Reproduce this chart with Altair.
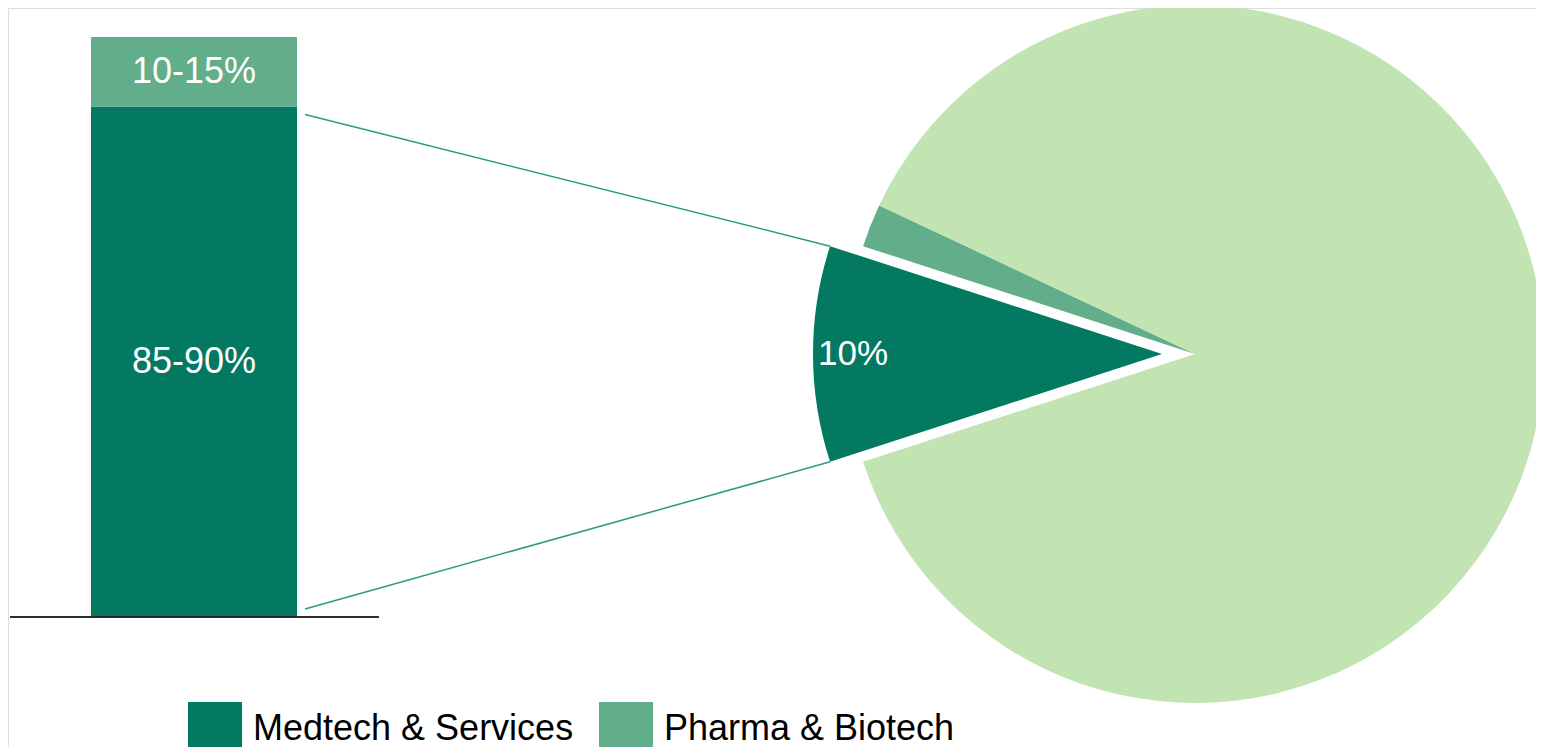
import math
import altair as alt
import pandas as pd

# ---------------- data ----------------
bar_segments = ["Medtech & Services", "Pharma & Biotech"]
bar_values = [88, 12]
bar_labels = ["85-90%", "10-15%"]

pie_segments = ["Medtech & Services", "Pharma & Biotech", "Other"]
pie_values = [10, 2, 88]
pie_labels = ["10%", "", ""]

colors = ["#027960", "#62AE8A", "#C2E4B3"]
line_color = "#2F9A7E"

# ---------------- layout ----------------
W, H = 1528, 739
PX_PER_UNIT = 5.8          # pixels per percentage point on the bar scale
Y_ZERO_PX = 609            # pixel row of the bar baseline
YMAX = Y_ZERO_PX / PX_PER_UNIT
YMIN = -(H - Y_ZERO_PX) / PX_PER_UNIT
BAR_X0, BAR_X1 = 83, 289
BASE_X0, BASE_X1 = 2, 371
PIE_CX, PIE_CY, R = 1187, 346, 349
EXPLODE = 33
LABEL_R = 309
LINE_GAP = 8
LINE_INSET = 8 / PX_PER_UNIT

start_deg = 270 - pie_values[0] * 3.6 / 2
a0 = math.radians(start_deg)

bar_df = pd.DataFrame({"segment": bar_segments, "value": bar_values,
                       "label": bar_labels, "ord": list(range(len(bar_values)))})
pie_df = pd.DataFrame({"segment": pie_segments, "value": pie_values,
                       "label": pie_labels, "ord": list(range(len(pie_values)))})

# connector lines: bar edge -> corners of exploded slice
ecx = PIE_CX - EXPLODE
corners = []
for deg in (start_deg + pie_values[0] * 3.6, start_deg):
    t = math.radians(deg)
    px = ecx + R * math.sin(t)
    py = PIE_CY - R * math.cos(t)
    corners.append((px, (Y_ZERO_PX - py) / PX_PER_UNIT))
line_df = pd.DataFrame({
    "x": [BAR_X1 + LINE_GAP, BAR_X1 + LINE_GAP],
    "y": [bar_values[0] - LINE_INSET, 0 + LINE_INSET],
    "x2": [corners[0][0], corners[1][0]],
    "y2": [corners[0][1], corners[1][1]],
})

xscale = alt.Scale(domain=[0, W], nice=False, zero=False)
yscale = alt.Scale(domain=[YMIN, YMAX], nice=False, zero=False)
tscale = alt.Scale(domain=[0, 100], range=[a0, a0 + 2 * math.pi])

color_enc = alt.Color(
    "segment:N",
    scale=alt.Scale(domain=pie_segments, range=colors),
    legend=alt.Legend(
        values=bar_segments, orient="none", legendX=180, legendY=694,
        direction="horizontal", title=None, symbolType="square",
        symbolSize=2916, symbolStrokeWidth=0, symbolOpacity=1,
        labelFontSize=36, labelOffset=11, columnPadding=25,
        labelColor="#000000", padding=0, labelLimit=600,
    ),
)

# ---- bar ----
bar_base = alt.Chart(bar_df).transform_stack(
    stack="value", groupby=[], as_=["y0", "y1"],
    sort=[alt.SortField("ord", order="ascending")]
)
bar = bar_base.mark_bar().encode(
    x=alt.value(BAR_X0), x2=alt.value(BAR_X1),
    y=alt.Y("y0:Q", scale=yscale, axis=None), y2="y1:Q",
    color=color_enc,
)
bar_text = bar_base.transform_calculate(ym="(datum.y0 + datum.y1) / 2").mark_text(
    fontSize=36, color="white", align="center", baseline="middle"
).encode(
    x=alt.value((BAR_X0 + BAR_X1) / 2),
    y=alt.Y("ym:Q", scale=yscale, axis=None),
    text="label:N",
)
baseline = alt.Chart(bar_df).mark_rule(color="#222222", strokeWidth=1.5).encode(
    x=alt.value(BASE_X0), x2=alt.value(BASE_X1), y=alt.datum(0, scale=yscale)
)

# ---- connectors ----
lines = alt.Chart(line_df).mark_rule(color=line_color, strokeWidth=1.5).encode(
    x=alt.X("x:Q", scale=xscale, axis=None), x2="x2:Q",
    y=alt.Y("y:Q", scale=yscale, axis=None), y2="y2:Q",
)

# ---- pie ----
pie_base = alt.Chart(pie_df).transform_stack(
    stack="value", groupby=[], as_=["t0", "t1"],
    sort=[alt.SortField("ord", order="ascending")]
)
pie_rest = pie_base.transform_filter("datum.ord != 0").mark_arc(radius=R).encode(
    theta=alt.Theta("t0:Q", scale=tscale), theta2="t1:Q",
    x=alt.value(PIE_CX), y=alt.value(PIE_CY),
    color=color_enc,
)
pie_exploded = pie_base.transform_filter("datum.ord == 0").mark_arc(radius=R).encode(
    theta=alt.Theta("t0:Q", scale=tscale), theta2="t1:Q",
    x=alt.value(PIE_CX - EXPLODE), y=alt.value(PIE_CY),
    color=color_enc,
)
pie_text = pie_base.transform_filter("datum.label != ''").transform_calculate(
    tm="(datum.t0 + datum.t1) / 2"
).mark_text(radius=LABEL_R, fontSize=35, color="white", align="center", baseline="middle").encode(
    theta=alt.Theta("tm:Q", scale=tscale),
    x=alt.value(PIE_CX - EXPLODE), y=alt.value(PIE_CY),
    text="label:N",
)

chart = alt.layer(
    lines, bar, bar_text, baseline, pie_rest, pie_exploded, pie_text
).properties(
    width=W, height=H, padding=0, autosize="none"
).configure_view(stroke="transparent", strokeWidth=0).configure(font="Liberation Sans")

chart.save("out.html", embed_options={"renderer": "svg", "actions": False})
